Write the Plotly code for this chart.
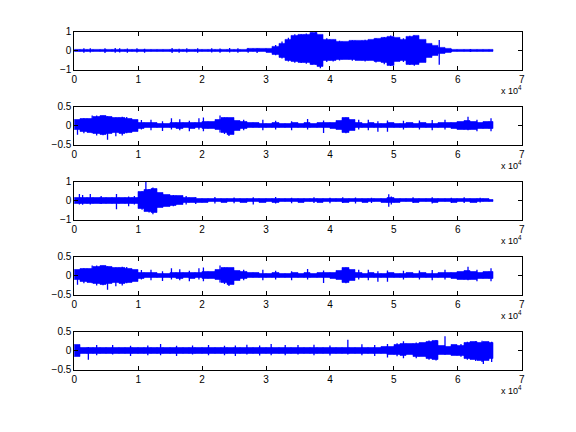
import plotly.graph_objects as go

# ---------------- data ----------------
SIGNAL_END = 65536
BIN_START = [i * 1000 for i in range(66)]  # envelope bins of 1000 samples

X_TICKS = [0, 10000, 20000, 30000, 40000, 50000, 60000, 70000]
X_TICK_LABELS = ["0", "1", "2", "3", "4", "5", "6", "7"]

# ---- subplot 1 ----
up1 = [0.07, 0.06, 0.07, 0.06, 0.07, 0.06, 0.07, 0.07, 0.06, 0.07,
       0.07, 0.06, 0.06, 0.06, 0.06, 0.07, 0.06, 0.06, 0.07, 0.06,
       0.06, 0.06, 0.07, 0.06, 0.07, 0.07, 0.07, 0.08, 0.08, 0.09,
       0.12, 0.22, 0.38, 0.60, 0.78, 0.82, 0.86, 0.94, 0.85, 0.60,
       0.56, 0.48, 0.47, 0.50, 0.53, 0.55, 0.56, 0.62, 0.68, 0.76,
       0.70, 0.60, 0.72, 0.78, 0.60, 0.38, 0.27, 0.15, 0.09, 0.07,
       0.07, 0.07, 0.07, 0.07, 0.07, 0.06]
lo1 = [-0.07, -0.06, -0.07, -0.06, -0.07, -0.06, -0.06, -0.07, -0.06, -0.07,
       -0.06, -0.07, -0.06, -0.06, -0.07, -0.06, -0.06, -0.07, -0.06, -0.06,
       -0.07, -0.06, -0.06, -0.07, -0.06, -0.07, -0.07, -0.07, -0.08, -0.08,
       -0.10, -0.20, -0.35, -0.55, -0.60, -0.63, -0.65, -0.72, -0.85, -0.55,
       -0.55, -0.50, -0.48, -0.50, -0.52, -0.55, -0.55, -0.60, -0.66, -0.78,
       -0.60, -0.55, -0.72, -0.76, -0.62, -0.40, -0.28, -0.15, -0.10, -0.07,
       -0.07, -0.07, -0.07, -0.07, -0.07, -0.06]
spike_pos1 = [1500, 2500, 4800, 6400, 7100, 8300, 9800, 11000, 15300, 16400,
              17600, 19300, 21500, 22800, 24300, 25600, 27200, 28600, 37800,
              38500, 57100, 59000, 62000,
              31500, 32500, 33500, 34500, 35500, 36300, 37200, 39500, 40500,
              41500, 43500, 45500, 47200, 48500, 49500, 51500, 52500, 53200,
              54500, 55800]
spike_top1 = [0.13, 0.12, 0.12, 0.14, 0.12, 0.11, 0.12, 0.10, 0.14, 0.10,
              0.12, 0.12, 0.13, 0.11, 0.14, 0.12, 0.13, 0.12, 1.00,
              0.80, 0.56, 0.10, 0.09,
              0.30, 0.48, 0.68, 0.86, 0.86, 0.90, 0.96, 0.65, 0.58,
              0.52, 0.55, 0.58, 0.66, 0.72, 0.80, 0.66, 0.78, 0.80,
              0.45, 0.32]
spike_bot1 = [-0.12, -0.10, -0.13, -0.12, -0.10, -0.12, -0.10, -0.12, -0.13, -0.12,
              -0.10, -0.11, -0.10, -0.12, -0.10, -0.12, -0.11, -0.13, -0.75,
              -0.93, -0.75, -0.09, -0.08,
              -0.25, -0.42, -0.58, -0.64, -0.66, -0.70, -0.75, -0.60, -0.58,
              -0.52, -0.54, -0.58, -0.63, -0.72, -0.82, -0.60, -0.76, -0.80,
              -0.48, -0.30]

# ---- subplot 2 ----
up2 = [0.15, 0.18, 0.18, 0.24, 0.25, 0.23, 0.20, 0.21, 0.19, 0.16,
       0.08, 0.07, 0.07, 0.06, 0.06, 0.07, 0.08, 0.07, 0.08, 0.07,
       0.10, 0.10, 0.16, 0.20, 0.22, 0.14, 0.10, 0.07, 0.07, 0.06,
       0.06, 0.07, 0.06, 0.06, 0.07, 0.06, 0.07, 0.06, 0.07, 0.07,
       0.07, 0.14, 0.20, 0.15, 0.07, 0.06, 0.07, 0.06, 0.06, 0.07,
       0.06, 0.06, 0.07, 0.06, 0.07, 0.06, 0.06, 0.07, 0.07, 0.08,
       0.10, 0.12, 0.11, 0.09, 0.10, 0.10]
lo2 = [-0.12, -0.17, -0.19, -0.22, -0.24, -0.22, -0.20, -0.21, -0.18, -0.15,
       -0.07, -0.06, -0.06, -0.05, -0.06, -0.06, -0.07, -0.06, -0.07, -0.06,
       -0.08, -0.09, -0.12, -0.20, -0.24, -0.14, -0.09, -0.06, -0.06, -0.06,
       -0.06, -0.06, -0.05, -0.06, -0.06, -0.05, -0.06, -0.06, -0.06, -0.06,
       -0.07, -0.12, -0.18, -0.13, -0.06, -0.06, -0.06, -0.05, -0.06, -0.06,
       -0.06, -0.05, -0.06, -0.06, -0.06, -0.05, -0.06, -0.06, -0.06, -0.07,
       -0.10, -0.11, -0.10, -0.08, -0.09, -0.09]
spike_pos2 = [500, 2800, 5200, 7500, 10500, 12000, 13800, 15200, 16500, 18000,
              19500, 20200, 22800, 24200, 26500, 29500, 31500, 34000, 36500,
              39000, 44500, 46000, 47500, 49000, 51500, 54000, 56000, 58000,
              61600, 63000, 65200,
              1500, 3500, 4500, 6500, 8200, 23500, 42500]
spike_top2 = [0.10, 0.27, 0.25, 0.24, 0.15, 0.16, 0.12, 0.20, 0.17, 0.13,
              0.20, 0.22, 0.27, 0.20, 0.16, 0.16, 0.13, 0.12, 0.18,
              0.14, 0.16, 0.16, 0.12, 0.14, 0.13, 0.14, 0.15, 0.16,
              0.24, 0.16, 0.20,
              0.20, 0.27, 0.26, 0.22, 0.23, 0.22, 0.22]
spike_bot2 = [-0.24, -0.20, -0.37, -0.26, -0.10, -0.12, -0.14, -0.10, -0.12, -0.15,
              -0.10, -0.15, -0.18, -0.27, -0.12, -0.12, -0.10, -0.12, -0.10,
              -0.19, -0.10, -0.12, -0.16, -0.16, -0.10, -0.10, -0.12, -0.10,
              -0.12, -0.15, -0.15,
              -0.20, -0.26, -0.25, -0.28, -0.20, -0.22, -0.20]

# ---- subplot 3 ----
up3 = [0.15, 0.16, 0.15, 0.14, 0.15, 0.15, 0.16, 0.15, 0.14, 0.15,
       0.45, 0.58, 0.65, 0.40, 0.30, 0.28, 0.25, 0.14, 0.13, 0.12,
       0.10, 0.09, 0.09, 0.10, 0.09, 0.09, 0.10, 0.09, 0.09, 0.10,
       0.09, 0.10, 0.09, 0.09, 0.09, 0.10, 0.09, 0.09, 0.10, 0.09,
       0.09, 0.09, 0.10, 0.09, 0.09, 0.10, 0.09, 0.09, 0.12, 0.14,
       0.10, 0.09, 0.09, 0.10, 0.09, 0.09, 0.10, 0.09, 0.09, 0.10,
       0.09, 0.09, 0.10, 0.09, 0.08, 0.07]
lo3 = [-0.14, -0.15, -0.14, -0.14, -0.15, -0.14, -0.15, -0.14, -0.14, -0.15,
       -0.45, -0.60, -0.65, -0.40, -0.30, -0.28, -0.22, -0.13, -0.12, -0.11,
       -0.09, -0.08, -0.08, -0.09, -0.08, -0.08, -0.09, -0.08, -0.08, -0.09,
       -0.08, -0.09, -0.08, -0.08, -0.08, -0.09, -0.08, -0.08, -0.09, -0.08,
       -0.08, -0.08, -0.09, -0.08, -0.08, -0.09, -0.08, -0.08, -0.10, -0.12,
       -0.09, -0.08, -0.08, -0.09, -0.08, -0.08, -0.09, -0.08, -0.08, -0.09,
       -0.08, -0.08, -0.09, -0.08, -0.07, -0.06]
spike_pos3 = [800, 1300, 2500, 4200, 6600, 8500, 9400, 11200, 12300, 17500,
              19000, 22000, 25000, 28000, 31500, 34000, 37500, 40000, 42000,
              44000, 46500, 49200, 53000, 56000, 59000, 61000, 63500,
              10600, 11700, 12800, 13600, 15500, 49600]
spike_top3 = [0.35, 0.30, 0.35, 0.25, 0.35, 0.22, 0.25, 1.00, 0.70, 0.25,
              0.20, 0.20, 0.17, 0.18, 0.20, 0.16, 0.18, 0.15, 0.18,
              0.17, 0.16, 0.34, 0.18, 0.18, 0.16, 0.18, 0.15,
              0.50, 0.62, 0.45, 0.35, 0.30, 0.22]
spike_bot3 = [-0.20, -0.22, -0.20, -0.18, -0.45, -0.30, -0.20, -0.20, -0.72, -0.20,
              -0.17, -0.15, -0.14, -0.20, -0.15, -0.13, -0.12, -0.13, -0.12,
              -0.15, -0.12, -0.32, -0.12, -0.15, -0.12, -0.12, -0.10,
              -0.48, -0.62, -0.50, -0.33, -0.30, -0.20]

# ---- subplot 4 (nearly identical to subplot 2 in the reference) ----
up4 = list(up2)
lo4 = list(lo2)
spike_pos4 = list(spike_pos2)
spike_top4 = list(spike_top2)
spike_bot4 = list(spike_bot2)

# ---- subplot 5 ----
up5 = [0.16, 0.09, 0.08, 0.08, 0.09, 0.08, 0.08, 0.09, 0.08, 0.08,
       0.08, 0.09, 0.08, 0.08, 0.09, 0.08, 0.08, 0.09, 0.08, 0.08,
       0.08, 0.09, 0.08, 0.08, 0.09, 0.08, 0.08, 0.09, 0.08, 0.08,
       0.08, 0.09, 0.08, 0.08, 0.09, 0.08, 0.08, 0.09, 0.08, 0.08,
       0.08, 0.09, 0.08, 0.08, 0.09, 0.08, 0.08, 0.09, 0.10, 0.10,
       0.16, 0.18, 0.17, 0.19, 0.20, 0.24, 0.26, 0.12, 0.10, 0.15,
       0.14, 0.20, 0.23, 0.22, 0.23, 0.20]
lo5 = [-0.17, -0.08, -0.08, -0.09, -0.08, -0.08, -0.09, -0.08, -0.08, -0.08,
       -0.09, -0.08, -0.08, -0.09, -0.08, -0.08, -0.08, -0.09, -0.08, -0.08,
       -0.09, -0.08, -0.08, -0.08, -0.09, -0.08, -0.08, -0.09, -0.08, -0.08,
       -0.08, -0.09, -0.08, -0.08, -0.09, -0.08, -0.08, -0.08, -0.09, -0.08,
       -0.08, -0.09, -0.08, -0.08, -0.08, -0.09, -0.08, -0.08, -0.09, -0.10,
       -0.12, -0.13, -0.12, -0.15, -0.15, -0.22, -0.24, -0.10, -0.10, -0.13,
       -0.14, -0.22, -0.24, -0.26, -0.28, -0.22]
spike_pos5 = [2200, 3500, 6000, 8800, 11500, 13500, 16000, 18500, 21000, 23500,
              25200, 27000, 29000, 30800, 33000, 35000, 37500, 40000, 42800,
              45000, 47000, 49000, 51500, 53500, 58000, 60500, 64000, 65300,
              50500, 55500, 56600, 61500, 62800, 63800]
spike_top5 = [0.10, 0.15, 0.15, 0.13, 0.14, 0.18, 0.13, 0.14, 0.15, 0.13,
              0.14, 0.16, 0.14, 0.18, 0.15, 0.15, 0.16, 0.14, 0.29,
              0.17, 0.15, 0.18, 0.25, 0.22, 0.38, 0.18, 0.20, 0.24,
              0.20, 0.27, 0.28, 0.24, 0.25, 0.26]
spike_bot5 = [-0.24, -0.12, -0.10, -0.14, -0.12, -0.12, -0.14, -0.10, -0.12, -0.12,
              -0.14, -0.10, -0.13, -0.12, -0.12, -0.10, -0.12, -0.13, -0.10,
              -0.12, -0.14, -0.18, -0.20, -0.20, -0.10, -0.16, -0.35, -0.30,
              -0.15, -0.24, -0.26, -0.24, -0.27, -0.30]

Y_RANGES = [[-1, 1], [-0.5, 0.5], [-1, 1], [-0.5, 0.5], [-0.5, 0.5]]
Y_TICKS = [[-1, 0, 1], [-0.5, 0, 0.5], [-1, 0, 1], [-0.5, 0, 0.5], [-0.5, 0, 0.5]]

PANELS = [
    (up1, lo1, spike_pos1, spike_top1, spike_bot1),
    (up2, lo2, spike_pos2, spike_top2, spike_bot2),
    (up3, lo3, spike_pos3, spike_top3, spike_bot3),
    (up4, lo4, spike_pos4, spike_top4, spike_bot4),
    (up5, lo5, spike_pos5, spike_top5, spike_bot5),
]

# ---------------- layout ----------------
W, H = 576, 432
AX_LEFT, AX_RIGHT = 74.3, 521.7
TOPS = [31.7, 106.8, 181.8, 256.8, 331.8]
AX_H = 37.8
BLUE = "#0000FF"
FONT = dict(family="Liberation Sans, Arial, Helvetica, sans-serif", size=10, color="black")

fig = go.Figure()
bin_width = [(BIN_START[i + 1] if i + 1 < len(BIN_START) else SIGNAL_END) - BIN_START[i]
             for i in range(len(BIN_START))]

annotations = []
for k, (up, lo, sp, st, sb) in enumerate(PANELS):
    n = k + 1
    xa = "x" if n == 1 else f"x{n}"
    ya = "y" if n == 1 else f"y{n}"
    fig.add_trace(go.Bar(
        x=BIN_START, y=[u - l for u, l in zip(up, lo)], base=lo,
        width=bin_width, offset=0,
        marker=dict(color=BLUE, line=dict(color=BLUE, width=0.6)),
        xaxis=xa, yaxis=ya, showlegend=False, hoverinfo="skip"))
    xs, ys = [], []
    for p, t, b in zip(sp, st, sb):
        xs += [p, p, None]
        ys += [b, t, None]
    fig.add_trace(go.Scatter(
        x=xs, y=ys, mode="lines", line=dict(color=BLUE, width=1.3),
        xaxis=xa, yaxis=ya, showlegend=False, hoverinfo="skip"))

    top = TOPS[k]
    bot = top + AX_H
    axis_common = dict(showline=True, linecolor="black", linewidth=1, mirror="ticks",
                       ticks="inside", ticklen=4, tickcolor="black", tickwidth=1,
                       showgrid=False, zeroline=False, tickfont=FONT, fixedrange=True,
                       automargin=False)
    fig.layout[f"xaxis{'' if n == 1 else n}"] = dict(
        domain=[AX_LEFT / W, AX_RIGHT / W], anchor=ya, range=[0, 70000],
        tickvals=X_TICKS, ticktext=X_TICK_LABELS, **axis_common)
    fig.layout[f"yaxis{'' if n == 1 else n}"] = dict(
        domain=[1 - bot / H, 1 - top / H], anchor=xa, range=Y_RANGES[k],
        tickvals=Y_TICKS[k], **axis_common)
    annotations.append(dict(
        text="x 10<sup>4</sup>", xref="paper", yref="paper",
        x=(AX_RIGHT + 1) / W, y=1 - (bot + 13.5) / H, xanchor="right", yanchor="top",
        borderpad=0, showarrow=False,
        font=dict(family=FONT["family"], size=9, color="black")))

fig.update_layout(
    width=W, height=H, margin=dict(l=0, r=0, t=0, b=0, pad=0), autosize=False,
    paper_bgcolor="white", plot_bgcolor="white",
    barmode="overlay", bargap=0, annotations=annotations,
)

fig.write_html(
    "out.html",
    config={"responsive": False, "displayModeBar": False},
    post_script="document.body.style.margin='0';document.body.style.padding='0';"
                "document.body.style.overflow='hidden';",
)
